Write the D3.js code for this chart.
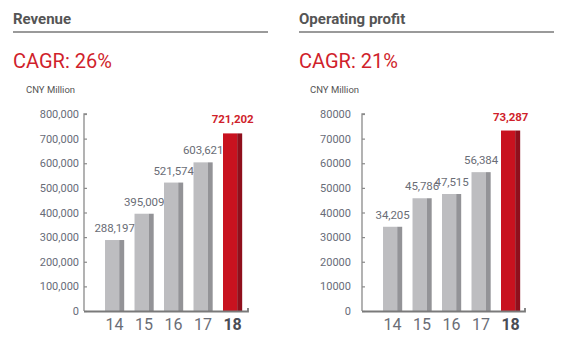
<!DOCTYPE html>
<html>
<head>
<meta charset="utf-8">
<script src="https://cdn.jsdelivr.net/npm/d3@7/dist/d3.min.js"></script>
<style>
  body { margin: 0; background: #fff; }
  svg { font-family: Roboto, "Open Sans", sans-serif; }
</style>
</head>
<body>
<div id="chart"></div>
<script>
let years = ["14", "15", "16", "17", "18"];
let revenue = [288197, 395009, 521574, 603621, 721202];
let profit = [34205, 45786, 47515, 56384, 73287];
let revenueTicks = [0, 100000, 200000, 300000, 400000, 500000, 600000, 700000, 800000];
let profitTicks = [0, 10000, 20000, 30000, 40000, 50000, 60000, 70000, 80000];

let GREY = "#bdbdc0", GREY_SIDE = "#939397",
    RED = "#c8121f", RED_SIDE = "#8f0f1c",
    TICK_TXT = "#686c78";

let svg = d3.select("#chart")
  .append("svg")
    .attr("width", 580)
    .attr("height", 346);

let drawPanel = function(opt) {
    let g = svg.append("g").attr("transform", "translate(" + opt.left + ",0)");

    g.append("text")
        .attr("x", 0).attr("y", 24)
        .attr("font-size", 15).attr("font-weight", "bold")
        .attr("fill", "#555")
        .text(opt.title);
    g.append("line")
        .attr("x1", 0).attr("x2", 255)
        .attr("y1", 32).attr("y2", 32)
        .attr("stroke", "#9a9a9a").attr("stroke-width", 2);
    g.append("text")
        .attr("x", 0).attr("y", 68)
        .attr("font-size", 20)
        .attr("fill", "#d01f2c")
        .text(opt.cagr);
    g.append("text")
        .attr("x", opt.unitX).attr("y", 93)
        .attr("font-size", 9.5)
        .attr("fill", "#555")
        .text("CNY Million");

    let y = d3.scaleLinear()
        .domain([0, opt.ticks[opt.ticks.length - 1]])
        .range([311, 114]);
    let x = d3.scaleBand()
        .domain(years)
        .range([opt.axisX + 10.7, opt.axisX + 168.5])
        .padding(0.35);

    // y axis: ticks point inward, labels sit left of the line
    let yAxis = g.append("g")
        .attr("transform", "translate(" + opt.axisX + ",0)")
        .call(d3.axisRight(y).tickValues(opt.ticks).tickSize(3).tickFormat(""));
    yAxis.select(".domain").attr("stroke", "#8a8a8a").attr("stroke-width", 1.3).attr("d", "M3,114H0V311");
    yAxis.selectAll(".tick line").attr("stroke", "#8a8a8a").attr("stroke-width", 1.2);

    g.selectAll("text.ytick")
        .data(opt.ticks)
      .enter().append("text")
        .attr("class", "ytick")
        .attr("x", opt.axisX - opt.labelGap)
        .attr("y", function(d) { return y(d) + 4; })
        .attr("text-anchor", "end")
        .attr("font-size", 11)
        .attr("fill", TICK_TXT)
        .text(function(d) { return opt.fmt(d); });

    let bars = g.selectAll("g.bar")
        .data(opt.values)
      .enter().append("g")
        .attr("class", "bar");
    let side = 5;
    bars.append("rect")
        .attr("x", function(d, i) { return x(years[i]); })
        .attr("y", function(d) { return y(d); })
        .attr("width", x.bandwidth() - side)
        .attr("height", function(d) { return y(0) - y(d); })
        .attr("fill", function(d, i) { return i === 4 ? RED : GREY; });
    bars.append("rect")
        .attr("x", function(d, i) { return x(years[i]) + x.bandwidth() - side; })
        .attr("y", function(d) { return y(d); })
        .attr("width", side)
        .attr("height", function(d) { return y(0) - y(d); })
        .attr("fill", function(d, i) { return i === 4 ? RED_SIDE : GREY_SIDE; });

    bars.append("text")
        .attr("x", function(d, i) { return x(years[i]) + x.bandwidth() / 2; })
        .attr("y", function(d, i) { return y(d) - (i === 4 ? 10 : 8); })
        .attr("text-anchor", "middle")
        .attr("font-size", 11.5)
        .attr("letter-spacing", -0.1)
        .attr("font-weight", function(d, i) { return i === 4 ? "bold" : "normal"; })
        .attr("fill", function(d, i) { return i === 4 ? "#d01f2c" : "#6a6d76"; })
        .text(function(d) { return d3.format(",")(d); });

    // baseline with the small upturn at the right end
    g.append("path")
        .attr("d", "M" + opt.axisX + ",311.5H" + (opt.axisX + opt.baseLen) + "V308")
        .attr("fill", "none")
        .attr("stroke", "#7a7a7a").attr("stroke-width", 1.8);

    g.selectAll("text.cat")
        .data(years)
      .enter().append("text")
        .attr("class", "cat")
        .attr("x", function(d) { return x(d) + x.bandwidth() / 2; })
        .attr("y", 330)
        .attr("text-anchor", "middle")
        .attr("font-size", 16)
        .attr("font-weight", function(d, i) { return i === 4 ? "bold" : "normal"; })
        .attr("fill", function(d, i) { return i === 4 ? "#4a4d55" : "#6a6d76"; })
        .text(function(d) { return d; });
};

drawPanel({
    left: 13, title: "Revenue", cagr: "CAGR: 26%", unitX: 13,
    axisX: 71, labelGap: 5, baseLen: 164,
    values: revenue, ticks: revenueTicks, fmt: d3.format(",")
});
drawPanel({
    left: 299, title: "Operating profit", cagr: "CAGR: 21%", unitX: 11,
    axisX: 63, labelGap: 11, baseLen: 163,
    values: profit, ticks: profitTicks, fmt: function(d) { return String(d); }
});
</script>
</body>
</html>
